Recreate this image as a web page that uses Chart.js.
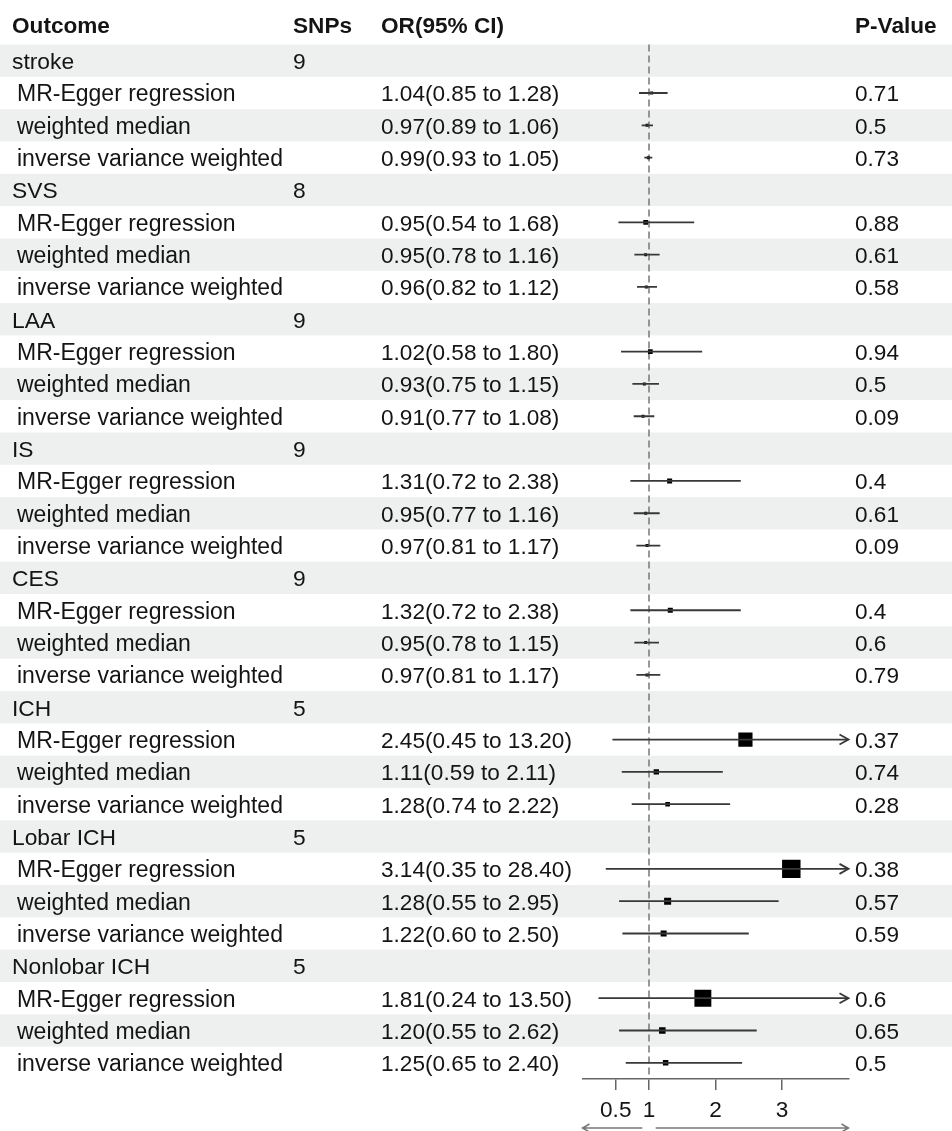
<!DOCTYPE html>
<html>
<head>
<meta charset="utf-8">
<script src="https://cdn.jsdelivr.net/npm/chart.js@4/dist/chart.umd.min.js"></script>
<style>
  html, body { margin: 0; padding: 0; background: #ffffff; }
  #wrap { width: 952px; height: 1131px; }
</style>
</head>
<body>
<div id="wrap"><canvas id="c" width="952" height="1131"></canvas></div>
<script>
// ---------- data ----------
const outcomes = ['stroke', 'SVS', 'LAA', 'IS', 'CES', 'ICH', 'Lobar ICH', 'Nonlobar ICH'];
const snps = [9, 8, 9, 9, 9, 5, 5, 5];
const methods = ['MR-Egger regression', 'weighted median', 'inverse variance weighted'];
const orEst = [
  [1.04, 0.97, 0.99], [0.95, 0.95, 0.96], [1.02, 0.93, 0.91], [1.31, 0.95, 0.97],
  [1.32, 0.95, 0.97], [2.45, 1.11, 1.28], [3.14, 1.28, 1.22], [1.81, 1.20, 1.25]
];
const ciLower = [
  [0.85, 0.89, 0.93], [0.54, 0.78, 0.82], [0.58, 0.75, 0.77], [0.72, 0.77, 0.81],
  [0.72, 0.78, 0.81], [0.45, 0.59, 0.74], [0.35, 0.55, 0.60], [0.24, 0.55, 0.65]
];
const ciUpper = [
  [1.28, 1.06, 1.05], [1.68, 1.16, 1.12], [1.80, 1.15, 1.08], [2.38, 1.16, 1.17],
  [2.38, 1.15, 1.17], [13.20, 2.11, 2.22], [28.40, 2.95, 2.50], [13.50, 2.62, 2.40]
];
const pValues = [
  ['0.71', '0.5', '0.73'], ['0.88', '0.61', '0.58'], ['0.94', '0.5', '0.09'], ['0.4', '0.61', '0.09'],
  ['0.4', '0.6', '0.79'], ['0.37', '0.74', '0.28'], ['0.38', '0.57', '0.59'], ['0.6', '0.65', '0.5']
];
const xTicks = [0.5, 1, 2, 3];
const xMin = 0, xMax = 4;
const headers = ['Outcome', 'SNPs', 'OR(95% CI)', 'P-Value'];

// ---------- rows ----------
const rows = [];
outcomes.forEach((o, g) => {
  rows.push({ type: 'group', label: o, snp: snps[g] });
  methods.forEach((m, k) => {
    rows.push({ type: 'est', label: m, est: orEst[g][k], lo: ciLower[g][k], hi: ciUpper[g][k], p: pValues[g][k] });
  });
});
const nRows = rows.length;

const FONT = '"Liberation Sans", Arial, sans-serif';
const TEXT = '#141414';
const BAND = '#eef0f0';
const LINE = '#383838';

const ciDatasets = [];
rows.forEach((r, i) => {
  if (r.type !== 'est') return;
  ciDatasets.push({
    type: 'scatter', showLine: true,
    data: [{ x: r.lo, y: i }, { x: r.hi, y: i }],
    borderColor: LINE, borderWidth: 1.8, pointRadius: 0, pointHoverRadius: 0
  });
});
const estRows = rows.map((r, i) => ({ r, i })).filter(o => o.r.type === 'est');
const boxDataset = {
  type: 'scatter',
  data: estRows.map(o => ({ x: o.r.est, y: o.i })),
  pointStyle: 'rect',
  backgroundColor: '#000', borderWidth: 0,
  pointRadius: ctx => {
    const o = estRows[ctx.dataIndex];
    if (!o) return 2;
    const side = Math.max(3, 4.2 * Math.log(o.r.hi / o.r.lo));
    return side / Math.SQRT2;
  },
  pointHoverRadius: 0
};

const tablePlugin = {
  id: 'table',
  beforeDraw(chart) {
    const { ctx } = chart;
    const y = chart.scales.y;
    ctx.save();
    ctx.fillStyle = '#fff';
    ctx.fillRect(0, 0, chart.width, chart.height);
    ctx.fillStyle = BAND;
    for (let i = 0; i < nRows; i += 2) {
      const t = y.getPixelForValue(i - 0.5), b = y.getPixelForValue(i + 0.5);
      ctx.fillRect(0, t, chart.width, b - t);
    }
    ctx.restore();
  },
  beforeDatasetsDraw(chart) {
    const { ctx, chartArea } = chart;
    const x = chart.scales.x;
    ctx.save();
    ctx.strokeStyle = '#777';
    ctx.lineWidth = 1.5;
    ctx.setLineDash([7, 4]);
    const px = x.getPixelForValue(1);
    ctx.beginPath();
    ctx.moveTo(px, chartArea.top);
    ctx.lineTo(px, chartArea.bottom);
    ctx.stroke();
    ctx.restore();
  },
  afterDatasetsDraw(chart) {
    const { ctx, chartArea } = chart;
    const y = chart.scales.y;
    ctx.save();
    ctx.strokeStyle = LINE;
    ctx.lineWidth = 1.8;
    rows.forEach((r, i) => {
      if (r.type !== 'est' || r.hi <= xMax) return;
      const py = y.getPixelForValue(i);
      const tx = chartArea.right;
      ctx.beginPath();
      ctx.moveTo(tx - 9, py - 5);
      ctx.lineTo(tx, py);
      ctx.lineTo(tx - 9, py + 5);
      ctx.stroke();
    });
    ctx.restore();
  },
  afterDraw(chart) {
    const { ctx } = chart;
    const x = chart.scales.x, y = chart.scales.y;
    ctx.save();
    ctx.fillStyle = TEXT;
    ctx.textBaseline = 'alphabetic';
    ctx.textAlign = 'left';
    // header
    ctx.font = 'bold 22.6px ' + FONT;
    const colX = [12, 293, 381, 855];
    headers.forEach((h, k) => ctx.fillText(h, colX[k], 33));
    rows.forEach((r, i) => {
      const base = y.getPixelForValue(i) + 8.5;
      if (r.type === 'group') {
        ctx.font = '22.8px ' + FONT;
        ctx.fillText(r.label, 12, base);
        ctx.fillText(String(r.snp), 293, base);
      } else {
        ctx.font = '23px ' + FONT;
        ctx.fillText(r.label, 17, base);
        ctx.font = '22.6px ' + FONT;
        ctx.fillText(r.est.toFixed(2) + '(' + r.lo.toFixed(2) + ' to ' + r.hi.toFixed(2) + ')', 381, base);
        ctx.fillText(r.p, 855, base);
      }
    });
    // bottom direction arrows
    const ay = 1128;
    ctx.strokeStyle = '#777';
    ctx.lineWidth = 1.5;
    const l0 = x.getPixelForValue(0.9), l1 = x.getPixelForValue(xMin);
    const r0 = x.getPixelForValue(1.1), r1 = x.getPixelForValue(xMax);
    ctx.beginPath();
    ctx.moveTo(l0, ay); ctx.lineTo(l1, ay);
    ctx.moveTo(l1 + 7, ay - 4); ctx.lineTo(l1, ay); ctx.lineTo(l1 + 7, ay + 4);
    ctx.moveTo(r0, ay); ctx.lineTo(r1, ay);
    ctx.moveTo(r1 - 7, ay - 4); ctx.lineTo(r1, ay); ctx.lineTo(r1 - 7, ay + 4);
    ctx.stroke();
    ctx.restore();
  }
};

new Chart(document.getElementById('c'), {
  type: 'scatter',
  data: { datasets: [...ciDatasets, boxDataset] },
  options: {
    responsive: false,
    animation: false,
    devicePixelRatio: 1,
    events: [],
    layout: { padding: { left: 582.5, right: 103.5, top: 44.5, bottom: 0 } },
    plugins: { legend: { display: false }, tooltip: { enabled: false } },
    scales: {
      x: {
        type: 'linear', min: xMin, max: xMax,
        afterBuildTicks: s => { s.ticks = xTicks.map(v => ({ value: v })); },
        afterFit: s => { s.height = 52; },
        border: { display: true, color: '#666', width: 1.5 },
        grid: { display: true, drawOnChartArea: false, drawTicks: true, tickLength: 11, color: '#666', lineWidth: 1.5 },
        ticks: { color: TEXT, font: { family: FONT, size: 22.6 }, padding: 7, autoSkip: false, maxRotation: 0,
                 callback: v => String(v) }
      },
      y: { type: 'linear', reverse: true, min: -0.5, max: nRows - 0.5, display: false }
    }
  },
  plugins: [tablePlugin]
});
</script>
</body>
</html>
